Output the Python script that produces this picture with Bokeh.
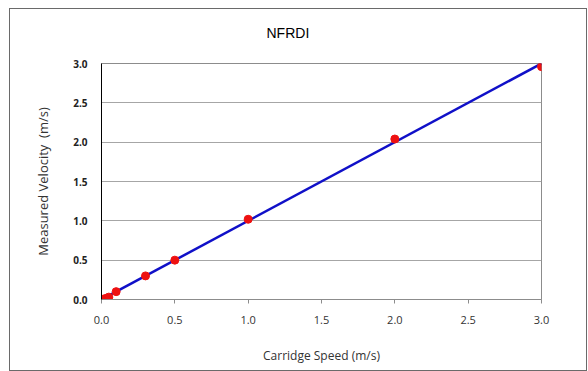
from bokeh.plotting import figure
from bokeh.embed import file_html
from bokeh.resources import INLINE
from bokeh.models import Range1d, FixedTicker, CustomJSTickFormatter, Title

speed = [0.02, 0.04, 0.05, 0.1, 0.3, 0.5, 1.0, 2.0, 3.0]
velocity = [0.01, 0.02, 0.03, 0.1, 0.3, 0.5, 1.02, 2.04, 2.96]
fit_x = [0.0, 3.0]
fit_y = [0.0, 3.0]
x_ticks = [0.0, 0.5, 1.0, 1.5, 2.0, 2.5, 3.0]
y_ticks = [0.0, 0.5, 1.0, 1.5, 2.0, 2.5, 3.0]

FONT = "Open Sans"

p = figure(width=578, height=363, output_backend="svg", toolbar_location=None,
           x_range=Range1d(0, 3.0), y_range=Range1d(0, 3.0),
           min_border_left=91, min_border_right=47, min_border_top=54, min_border_bottom=73,
           title="NFRDI")
p.styles = {"border": "1px solid #6a6a6a", "box-sizing": "border-box",
            "margin-left": "9px", "margin-top": "8px"}
p.background_fill_color = "white"
p.border_fill_color = "white"
p.outline_line_color = "#8c8c8c"
p.outline_line_width = 1

# invisible spacer between the frame and the title
spacer = Title(text="\u00a0", text_font_size="1px", standoff=18)
p.add_layout(spacer, "above")

p.title.align = "left"
p.title.offset = 165
p.title.vertical_align = "top"
p.title.text_font = "Liberation Sans"
p.title.text_font_style = "normal"
p.title.text_font_size = "14px"
p.title.text_color = "#000000"
p.title.standoff = 0

p.xgrid.grid_line_color = None
p.ygrid.grid_line_color = "#a6a6a6"
p.ygrid.grid_line_width = 1

p.xaxis.ticker = FixedTicker(ticks=x_ticks)
p.yaxis.ticker = FixedTicker(ticks=y_ticks)
p.xaxis.minor_tick_line_color = None
p.yaxis.minor_tick_line_color = None
p.xaxis.axis_line_color = "#8c8c8c"
p.xaxis.major_tick_line_color = "#8c8c8c"
p.xaxis.major_tick_out = 4
p.xaxis.major_tick_in = 0
p.yaxis.axis_line_color = "#000000"
p.yaxis.major_tick_out = 0
p.yaxis.major_tick_in = 0
p.xaxis.major_label_standoff = 12
p.yaxis.major_label_standoff = 14
p.xaxis.formatter = CustomJSTickFormatter(code="return tick.toFixed(1);")
p.yaxis.formatter = CustomJSTickFormatter(code="return tick.toFixed(1);")
p.xaxis.major_label_text_font = FONT
p.yaxis.major_label_text_font = FONT
p.xaxis.major_label_text_font_size = "11px"
p.yaxis.major_label_text_font_size = "10px"
p.xaxis.major_label_text_color = "#333333"
p.yaxis.major_label_text_color = "#222222"
p.yaxis.major_label_text_font_style = "bold"

p.xaxis.axis_label = "Carridge Speed (m/s)"
p.xaxis.axis_label_text_font = FONT
p.xaxis.axis_label_text_font_style = "normal"
p.xaxis.axis_label_text_font_size = "12px"
p.xaxis.axis_label_text_color = "#333333"
p.xaxis.axis_label_standoff = 20

ytitle = Title(text="Measured Velocity\u00a0\u00a0(m/s)", align="center", offset=26,
               text_font=FONT, text_font_size="13px", text_color="#333333",
               text_font_style="normal", standoff=38)
p.add_layout(ytitle, "left")

p.line(fit_x, fit_y, line_color="#1010c8", line_width=2.5)
p.scatter(speed, velocity, size=8, fill_color="#ee1111", line_color="#ee1111")

open("out.html", "w").write(file_html(p, INLINE))
